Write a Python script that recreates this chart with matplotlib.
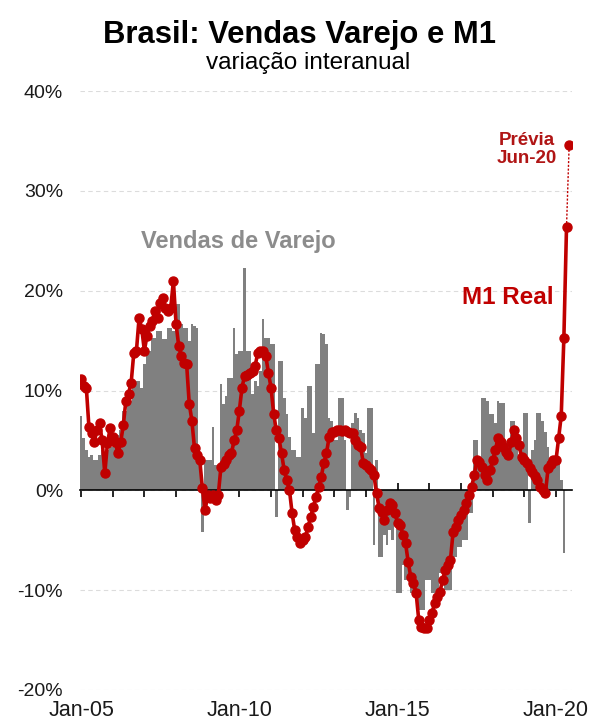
import numpy as np
import matplotlib
matplotlib.use('Agg')
import matplotlib.pyplot as plt

plt.rcParams['font.family'] = ['Liberation Sans', 'DejaVu Sans']

# monthly yoy %, Jan-05 onwards
m1_real = [
    11.2, 10.5, 10.3, 6.3, 5.7, 4.8, 6.0, 6.7, 5.0, 1.7, 4.7, 6.2,          # 2005
    5.3, 4.8, 3.7, 4.8, 6.5, 9.0, 9.7, 10.8, 13.8, 14.0, 17.3, 16.2,        # 2006
    14.0, 15.5, 16.5, 17.0, 18.0, 17.3, 18.8, 19.3, 18.3, 18.0, 18.3, 21.0, # 2007
    16.7, 14.5, 13.5, 12.8, 12.7, 8.7, 7.0, 4.2, 3.5, 3.0, 0.2, -2.0,       # 2008
    -0.5, -0.8, -0.5, -1.0, -0.5, 2.3, 2.6, 3.0, 3.5, 3.7, 5.0, 6.0,        # 2009
    8.0, 10.3, 11.5, 11.6, 11.8, 12.0, 12.5, 13.8, 14.0, 14.0, 13.5, 11.8,  # 2010
    10.3, 7.7, 6.0, 5.2, 3.7, 2.0, 1.0, 0.0, -2.3, -4.0, -4.7, -5.3,        # 2011
    -5.0, -4.7, -3.7, -2.7, -1.7, -0.7, 0.3, 1.3, 2.7, 3.7, 5.3, 5.8,       # 2012
    5.8, 6.0, 6.0, 5.9, 6.0, 5.8, 5.7, 5.7, 5.0, 4.5, 4.3, 2.7,             # 2013
    2.5, 2.2, 2.0, 1.5, -0.3, -1.8, -2.2, -3.0, -2.0, -1.3, -1.5, -2.3,     # 2014
    -3.3, -3.5, -4.5, -5.3, -7.2, -8.7, -9.3, -10.3, -13.0, -13.7, -13.8, -13.8,  # 2015
    -13.0, -12.3, -11.3, -10.7, -10.2, -9.0, -8.0, -7.5, -7.0, -4.2, -3.7, -3.0,  # 2016
    -2.5, -2.0, -1.3, -0.5, 0.3, 1.5, 3.0, 2.8, 2.3, 1.5, 1.0, 2.0,         # 2017
    3.0, 4.0, 5.2, 4.8, 4.3, 3.8, 3.5, 4.8, 6.0, 5.2, 4.5, 3.3,             # 2018
    3.0, 2.7, 2.2, 1.8, 1.4, 1.0, 0.3, 0.0, -0.3, 2.2, 2.6, 3.0,            # 2019
    3.0, 5.2, 7.5, 15.3, 26.4,                                              # 2020
]
m1_previa = 34.6  # Jun-20 preview

varejo = [
    7.5, 5.2, 4.0, 3.3, 3.5, 3.0, 3.0, 3.5, 4.0, 3.0, 4.0, 5.0,             # 2005
    4.3, 4.5, 5.5, 6.0, 8.0, 8.0, 9.0, 9.0, 10.7, 11.0, 11.0, 10.3,         # 2006
    12.7, 14.0, 14.0, 15.3, 15.3, 16.0, 16.0, 15.2, 15.2, 16.3, 16.3, 16.0, # 2007
    18.7, 18.7, 16.7, 16.3, 16.3, 15.0, 16.7, 16.5, 16.3, 3.0, -4.2, 3.0,   # 2008
    3.0, 3.0, 6.3, 2.5, 2.5, 10.7, 8.7, 9.5, 11.3, 11.3, 16.3, 13.7,        # 2009
    14.0, 14.0, 22.3, 14.0, 14.0, 9.7, 11.0, 10.5, 12.0, 17.2, 15.3, 15.3,  # 2010
    14.7, 14.7, -2.7, 13.0, 13.0, 9.3, 7.7, 5.3, 4.0, 4.0, 3.3, 3.3,        # 2011
    8.3, 7.3, 10.5, 10.5, 5.7, 12.7, 12.7, 15.8, 15.7, 14.7, 7.3, 7.0,      # 2012
    5.0, 5.0, 9.3, 9.3, 5.0, -2.0, -0.7, 6.7, 7.8, 7.3, 6.0, 5.7,           # 2013
    3.7, 8.3, 8.3, -5.5, 3.0, -6.7, -6.7, -4.5, -5.5, -4.0, -5.0, -3.5,     # 2014
    -10.3, -10.3, -7.5, -9.0, -9.0, -10.3, -10.3, -10.3, -12.0, -12.0, -12.0, -9.0,  # 2015
    -9.0, -10.3, -10.3, -10.3, -8.3, -8.3, -10.0, -10.0, -10.0, -6.7, -6.7, -5.7,    # 2016
    -5.7, -5.0, -5.0, -2.3, -2.3, 5.0, 5.0, 3.0, 9.3, 9.3, 9.0, 7.7,        # 2017
    7.7, 6.7, 9.0, 8.8, 8.8, 4.7, 4.5, 7.0, 7.0, 5.5, 3.0, 4.0,             # 2018
    7.8, 7.8, -3.3, 4.0, 5.0, 7.8, 7.8, 7.0, 5.8, 4.3, 3.2, 3.0,            # 2019
    2.7, 2.7, 1.0, -6.3,                                                    # 2020
]

tick_labels = ["Jan-05", "Jan-10", "Jan-15", "Jan-20"]
y_labels = ["-20%", "-10%", "0%", "10%", "20%", "30%", "40%"]

RED = "#C00000"
GRAY = "#808080"

months_m1 = np.arange(len(m1_real))
months_var = np.arange(len(varejo))
prev_x = len(m1_real)

fig = plt.figure(figsize=(5.95, 7.25), dpi=100)
ax = fig.add_axes([0.134, 0.0483, 0.827, 0.826])

ax.bar(months_var, varejo, width=1.0, color=GRAY, linewidth=0, zorder=2)
ax.plot([months_m1[-1], prev_x], [m1_real[-1], m1_previa], color=RED,
        lw=1.0, ls=(0, (1.5, 1.2)), zorder=3)
ax.plot(months_m1, m1_real, color=RED, lw=2.6, marker="o", ms=6.5, zorder=4)
ax.plot([prev_x], [m1_previa], color=RED, marker="o", ms=6.5, zorder=4)

ax.set_xlim(-0.5, 186)
ax.set_ylim(-20, 40)

# y axis
ax.set_yticks(np.arange(-20, 41, 10))
ax.set_yticklabels(y_labels, fontsize=14, color="#1a1a1a")
ax.tick_params(axis="y", length=0, pad=12)
ax.yaxis.grid(True, color="#dcdcdc", lw=0.8, ls=(0, (4, 3)), zorder=0)
ax.set_axisbelow(True)

for s in ["left", "right", "top"]:
    ax.spines[s].set_visible(False)
ax.spines["bottom"].set_position(("data", 0))
ax.spines["bottom"].set_color("black")
ax.spines["bottom"].set_linewidth(1.2)
ax.spines["bottom"].set_zorder(2.5)

ax.set_xticks(np.arange(0, 181, 12))
ax.tick_params(axis="x", direction="inout", length=10, width=1.2,
               labelbottom=False)

sec = ax.secondary_xaxis("bottom")
sec.set_xticks([0, 60, 120, 180])
sec.set_xticklabels(tick_labels, fontsize=15.5, color="#1a1a1a")
sec.tick_params(length=0, pad=7)
sec.spines["bottom"].set_visible(False)

# labels
ax.text(59.5, 24.9, "Vendas de Varejo", color="#8c8c8c", fontsize=17,
        fontweight="bold", ha="center", va="center")
ax.text(161.7, 19.3, "M1 Real", color=RED, fontsize=17.5,
        fontweight="bold", ha="center", va="center")
ax.text(169, 34.15, "Prévia\nJun-20", color="#B01515", fontsize=13.5,
        fontweight="bold", ha="center", va="center", linespacing=1.1)

fig.text(0.504, 1 - 35 / 725, "Brasil: Vendas Varejo e M1", fontsize=22.3,
         fontweight="bold", ha="center", va="center")
fig.text(0.518, 1 - 63 / 725, "variação interanual", fontsize=17.5,
         ha="center", va="center")

fig.savefig("out.png", dpi=100)
